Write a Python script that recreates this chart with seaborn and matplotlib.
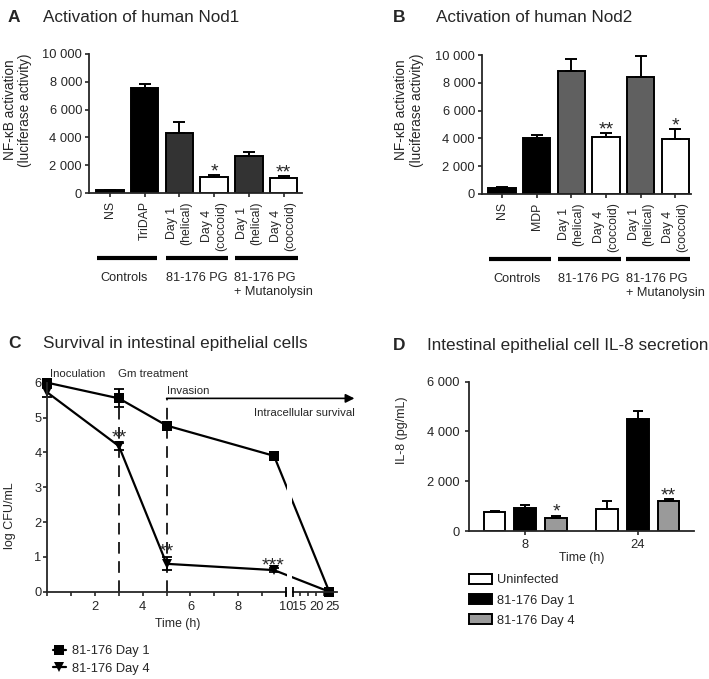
import numpy as np
import pandas as pd
import matplotlib
matplotlib.use("Agg")
import matplotlib.pyplot as plt
from matplotlib.lines import Line2D
from matplotlib.patches import Rectangle
import seaborn as sns

sns.set_theme(style="ticks")
plt.rcParams['font.family'] = ['Liberation Sans', 'DejaVu Sans']
plt.rcParams['axes.linewidth'] = 1.3
plt.rcParams['xtick.major.width'] = 1.2
plt.rcParams['ytick.major.width'] = 1.2
plt.rcParams['xtick.major.size'] = 3
plt.rcParams['ytick.major.size'] = 3

# ---------------- data ----------------
# Panel A: Nod1
a_keys = ['NS', 'TriDAP', 'D1', 'D4', 'D1M', 'D4M']
a_ticklabels = ['NS', 'TriDAP', 'Day 1\n(helical)', 'Day 4\n(coccoid)', 'Day 1\n(helical)', 'Day 4\n(coccoid)']
a_values = [180, 7540, 4330, 1170, 2630, 1100]
a_err = [30, 330, 810, 100, 290, 120]
a_colors = ['black', 'black', '#333333', 'white', '#333333', 'white']
a_stars = ['', '', '', '*', '', '**']

# Panel B: Nod2
b_keys = ['NS', 'MDP', 'D1', 'D4', 'D1M', 'D4M']
b_ticklabels = ['NS', 'MDP', 'Day 1\n(helical)', 'Day 4\n(coccoid)', 'Day 1\n(helical)', 'Day 4\n(coccoid)']
b_values = [450, 4030, 8850, 4100, 8440, 3930]
b_err = [30, 190, 860, 290, 1510, 720]
b_colors = ['black', 'black', '#606060', 'white', '#606060', 'white']
b_stars = ['', '', '', '**', '', '*']

group_labels = ['Controls', '81-176 PG', '81-176 PG\n+ Mutanolysin']

# Panel C: survival
c_time = [0, 3, 5, 9.5, 24]
c_day1 = [6.0, 5.55, 4.77, 3.9, 0.0]
c_day1_err = [0.05, 0.26, 0.08, 0.05, 0.0]
c_day4 = [5.72, 4.18, 0.80, 0.62, 0.0]
c_day4_err = [0.12, 0.10, 0.19, 0.05, 0.0]
c_series = ['81-176 Day 1', '81-176 Day 4']

# Panel D: IL-8
d_times = ['8', '24']
d_groups = ['Uninfected', '81-176 Day 1', '81-176 Day 4']
d_uninf = [770, 880]
d_day1 = [930, 4510]
d_day4 = [540, 1200]
d_uninf_err = [30, 340]
d_day1_err = [110, 320]
d_day4_err = [80, 70]
d_colors = ['white', 'black', '#9a9a9a']
d_stars = {('8', '81-176 Day 4'): '*', ('24', '81-176 Day 4'): '**'}

STAR_FS = 14
STAR_OFF = -1.0

W, H = 709, 679
fig = plt.figure(figsize=(W / 100, H / 100), dpi=100)


def fx(px):
    return px / W


def fy(py):
    return 1 - py / H


def box(l, t, r, b):
    return [fx(l), fy(b), fx(r) - fx(l), fy(t) - fy(b)]


def bar_panel(ax, keys, ticklabels, values, err, colors, stars, xlim, grp_lines, grp_text):
    df = pd.DataFrame({'k': keys, 'v': values})
    sns.barplot(data=df, x='k', y='v', hue='k', palette=colors, order=keys,
                hue_order=keys, legend=False, edgecolor='black', linewidth=1.4,
                width=0.79, errorbar=None, ax=ax, saturation=1)
    x = np.arange(len(keys))
    ax.errorbar(x, values, yerr=[np.zeros(len(x)), err], fmt='none', ecolor='black',
                elinewidth=1.4, capsize=4.3, capthick=1.4, zorder=1)
    for xi, v, e, s in zip(x, values, err, stars):
        if s:
            ax.annotate(s, (xi, v + e), xytext=(0, STAR_OFF), textcoords='offset points',
                        ha='center', va='baseline', fontsize=STAR_FS)
    ax.set_ylim(0, 10000)
    ax.set_yticks([0, 2000, 4000, 6000, 8000, 10000])
    ax.set_yticklabels(['0', '2 000', '4 000', '6 000', '8 000', '10 000'], fontsize=9.3)
    ax.set_xlim(*xlim)
    ax.set_xticks(x)
    ax.set_xticklabels(ticklabels, rotation=90, fontsize=8.8, linespacing=1.25)
    ax.tick_params(axis='x', pad=3)
    ax.tick_params(axis='y', pad=2)
    ax.set_xlabel('')
    ax.set_ylabel('')
    sns.despine(ax=ax)
    tr = ax.get_xaxis_transform()
    for (x0, x1) in grp_lines:
        ax.plot([x0, x1], [grp_y, grp_y], color='black', lw=3, transform=tr,
                clip_on=False, solid_capstyle='butt')
    for (tx, ha), lab in zip(grp_text, group_labels):
        ax.text(tx, grp_ty, lab, transform=tr, ha=ha, va='top', fontsize=9.2,
                linespacing=1.15, multialignment='left')


# ---------------- Panel A ----------------
grp_y = -0.47
grp_ty = -0.57
axA = fig.add_axes(box(89, 54, 302, 193))
bar_panel(axA, a_keys, a_ticklabels, a_values, a_err, a_colors, a_stars, (-0.6, 5.53),
          [(-0.384, 1.367), (1.61, 3.40), (3.59, 5.42)],
          [(0.42, 'center'), (2.49, 'center'), (3.58, 'left')])

# ---------------- Panel B ----------------
axB = fig.add_axes(box(482, 55, 691, 194))
bar_panel(axB, b_keys, b_ticklabels, b_values, b_err, b_colors, b_stars, (-0.57, 5.45),
          [(-0.365, 1.408), (1.618, 3.42), (3.59, 5.43)],
          [(0.45, 'center'), (2.51, 'center'), (3.59, 'left')])

for (px, py), lab in zip([(17.5, 110), (409, 110)], ['A', 'B']):
    fig.text(fx(px), fy(py), 'NF-\u03baB activation\n(luciferase activity)', rotation=90,
             ha='center', va='center', fontsize=9.8, linespacing=1.15)

# ---------------- Panel C ----------------
axC = fig.add_axes(box(47.3, 382.7, 336.5, 591.7))
dfc = pd.DataFrame({
    'time': c_time + c_time,
    'cfu': c_day1 + c_day4,
    'series': [c_series[0]] * len(c_time) + [c_series[1]] * len(c_time),
})
sns.lineplot(data=dfc, x='time', y='cfu', hue='series', style='series',
             palette=['black', 'black'], markers=['s', 'v'], dashes=False,
             markersize=7, markeredgewidth=0, linewidth=1.6, errorbar=None,
             legend=False, ax=axC, estimator=None, sort=True)
axC.errorbar(c_time, c_day1, yerr=c_day1_err, fmt='none', ecolor='black', elinewidth=1.3,
             capsize=3.5, capthick=1.3, clip_on=False)
axC.errorbar(c_time, c_day4, yerr=c_day4_err, fmt='none', ecolor='black', elinewidth=1.3,
             capsize=3.5, capthick=1.3, clip_on=False)
for ln in axC.lines:
    ln.set_clip_on(False)

K1 = 0.099   # compression inside the break
K2 = 0.138   # scale of the 13-26 h segment
U13 = 10 + 3 * K1


def fwd(t):
    t = np.asarray(t, dtype=float)
    return np.where(t <= 10, t,
                    np.where(t <= 13, 10 + (t - 10) * K1, U13 + (t - 13) * K2))


def inv(u):
    u = np.asarray(u, dtype=float)
    return np.where(u <= 10, u,
                    np.where(u <= U13, 10 + (u - 10) / K1, 13 + (u - U13) / K2))


axC.set_xscale('function', functions=(fwd, inv))
axC.set_xlim(0, 26.2)
axC.set_ylim(0, 6)
xt = [0, 1, 2, 3, 4, 5, 6, 7, 8, 9, 10, 15, 17.5, 20, 22.5, 25]
xl = ['', '', '2', '', '4', '', '6', '', '8', '', '10', '15', '', '20', '', '25']
axC.set_xticks(xt)
axC.set_xticklabels(xl, fontsize=9.3)
axC.xaxis.set_minor_locator(matplotlib.ticker.NullLocator())
axC.set_yticks(range(7))
axC.set_yticklabels([str(i) for i in range(7)], fontsize=9.3)
axC.tick_params(axis='x', pad=4)
axC.tick_params(axis='y', pad=1)
axC.set_xlabel('')
axC.set_ylabel('')
sns.despine(ax=axC)
# axis break: white band hiding the lines and spine between the two segments
axC.add_patch(Rectangle((10.25, -0.015), 2.5, 0.6, transform=axC.get_xaxis_transform(),
                        facecolor='white', edgecolor='none', zorder=10, clip_on=False))
axC.plot([10, 13], [0, 0], ls='none', marker='|', ms=7, mew=1.3, color='black',
         clip_on=False, zorder=11)
# annotations
axC.plot([3, 3], [0, 6.0], color='black', lw=1.2, ls=(0, (7, 4.5)))
axC.plot([5, 5], [0, 5.55], color='black', lw=1.2, ls=(0, (7, 4.5)))
axC.annotate('', xy=(1.062, 5.55), xycoords=('axes fraction', 'data'),
             xytext=(5, 5.55), textcoords='data',
             arrowprops=dict(arrowstyle='-|>', color='black', lw=1.2,
                             mutation_scale=13, shrinkA=0, shrinkB=0))
axC.text(0.1, 6.26, 'Inoculation', ha='left', va='center', fontsize=8.2)
axC.text(2.95, 6.26, 'Gm treatment', ha='left', va='center', fontsize=8.2)
axC.text(5.0, 5.77, 'Invasion', ha='left', va='center', fontsize=8.2)
axC.text(1.062, 5.13, 'Intracellular survival', ha='right', va='center', fontsize=8.2,
         transform=axC.get_yaxis_transform())
for tx, ty, s in [(3, 4.28, '**'), (5, 1.02, '**'), (9.45, 0.62, '***')]:
    axC.text(tx, ty, s, ha='center', va='baseline', fontsize=STAR_FS)
fig.text(fx(10), fy(516), 'log CFU/mL', rotation=90, ha='center', va='center', fontsize=9)
fig.text(fx(178), fy(624), 'Time (h)', ha='center', va='center', fontsize=8.8)
legC = [Line2D([], [], color='black', marker=m, markersize=7, markeredgewidth=0, lw=1.6)
        for m in ['s', 'v']]
fig.legend(legC, c_series, loc='upper left', bbox_to_anchor=(fx(53), fy(645)),
           frameon=False, fontsize=9.3, handlelength=1.0, handletextpad=0.45,
           labelspacing=0.42, borderpad=0, borderaxespad=0)

# ---------------- Panel D ----------------
axD = fig.add_axes(box(469, 381.7, 694, 531))
dfd = pd.DataFrame({
    'time': d_times * 3,
    'il8': d_uninf + d_day1 + d_day4,
    'group': [d_groups[0]] * 2 + [d_groups[1]] * 2 + [d_groups[2]] * 2,
})
sns.barplot(data=dfd, x='time', y='il8', hue='group', order=d_times, hue_order=d_groups,
            palette=d_colors, edgecolor='black', linewidth=1.4, width=0.82, gap=0.3,
            errorbar=None, saturation=1, ax=axD)
errs = [d_uninf_err, d_day1_err, d_day4_err]
vals = [d_uninf, d_day1, d_day4]
for hi, g in enumerate(d_groups):
    xs = np.arange(len(d_times)) + (hi - 1) * 0.82 / 3
    axD.errorbar(xs, vals[hi], yerr=[np.zeros(len(xs)), errs[hi]], fmt='none', ecolor='black',
                 elinewidth=1.4, capsize=3.8, capthick=1.4, zorder=1)
    for xi, t in enumerate(d_times):
        s = d_stars.get((t, g))
        if s:
            axD.annotate(s, (xs[xi], vals[hi][xi] + errs[hi][xi]), xytext=(0, STAR_OFF),
                         textcoords='offset points', ha='center', va='baseline',
                         fontsize=STAR_FS)
axD.set_ylim(0, 6000)
axD.set_xlim(-0.5, 1.5)
axD.set_yticks([0, 2000, 4000, 6000])
axD.set_yticklabels(['0', '2 000', '4 000', '6 000'], fontsize=9.3)
axD.set_xticks([0, 1])
axD.set_xticklabels(d_times, fontsize=9.3)
axD.tick_params(axis='x', pad=3)
axD.set_xlabel('')
axD.set_ylabel('')
sns.despine(ax=axD)
sns.move_legend(axD, 'upper left', bbox_to_anchor=(fx(469), fy(574)),
                bbox_transform=fig.transFigure, frameon=False, title=None,
                fontsize=9.3, handlelength=1.75, handleheight=0.8, handletextpad=0.4,
                labelspacing=0.6, borderpad=0, borderaxespad=0)
fig.text(fx(401.5), fy(430), 'IL-8 (pg/mL)', rotation=90, ha='center', va='center', fontsize=9)
fig.text(fx(582), fy(558), 'Time (h)', ha='center', va='center', fontsize=8.8)

# ---------------- titles ----------------
titles = [
    (8, 22, 43, 'A', 'Activation of human Nod1'),
    (393, 22, 436, 'B', 'Activation of human Nod2'),
    (8, 348, 43, 'C', 'Survival in intestinal epithelial cells'),
    (393, 350, 427, 'D', 'Intestinal epithelial cell IL-8 secretion'),
]
for lx, by, tx, letter, title in titles:
    fig.text(fx(lx), fy(by), letter, fontsize=12.5, fontweight='bold', va='baseline')
    fig.text(fx(tx), fy(by), title, fontsize=12.3, va='baseline')

fig.savefig('out.png', dpi=100)
